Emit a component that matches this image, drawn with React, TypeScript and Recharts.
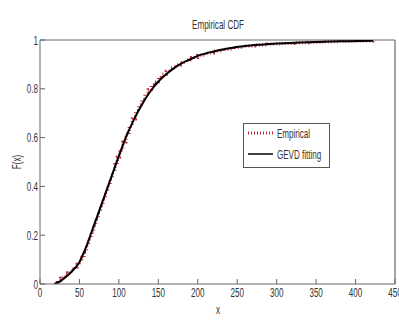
import React from 'react';
import { LineChart, Line, XAxis, YAxis, ReferenceLine } from 'recharts';

const fitX = [18, 22, 26, 30, 35, 40, 45, 50, 55, 60, 65, 70, 75, 80, 85, 90, 95, 100, 110, 120, 130, 140, 150, 160, 170, 180, 190, 200, 220, 240, 260, 280, 300, 330, 360, 390, 422];
const fitY = [0, 0.005, 0.012, 0.022, 0.035, 0.05, 0.068, 0.09, 0.125, 0.165, 0.21, 0.255, 0.3, 0.345, 0.39, 0.435, 0.48, 0.525, 0.61, 0.68, 0.74, 0.79, 0.83, 0.86, 0.885, 0.905, 0.92, 0.935, 0.953, 0.966, 0.975, 0.981, 0.986, 0.99, 0.993, 0.995, 0.997];

const empX = [20, 23, 26, 29, 32, 35, 38, 41, 44, 47, 50, 53, 56, 59, 62, 65, 68, 71, 74, 77, 80, 83, 86, 89, 92, 95, 98, 101, 105, 109, 113, 117, 121, 125, 129, 133, 137, 141, 145, 150, 155, 160, 166, 172, 178, 185, 192, 200, 210, 220, 232, 245, 258, 272, 288, 305, 322, 340, 360, 380, 400, 422];
const empY = [0.006, 0.015, 0.024, 0.031, 0.038, 0.046, 0.053, 0.061, 0.07, 0.081, 0.093, 0.11, 0.132, 0.16, 0.187, 0.212, 0.24, 0.268, 0.296, 0.322, 0.35, 0.378, 0.405, 0.432, 0.46, 0.49, 0.52, 0.548, 0.582, 0.615, 0.646, 0.676, 0.706, 0.73, 0.754, 0.776, 0.796, 0.813, 0.829, 0.846, 0.86, 0.872, 0.886, 0.898, 0.908, 0.918, 0.928, 0.938, 0.947, 0.955, 0.962, 0.969, 0.975, 0.98, 0.984, 0.986, 0.989, 0.991, 0.993, 0.995, 0.996, 0.998];

const xTicks = [0, 50, 100, 150, 200, 250, 300, 350, 400, 450];
const yTicks = [0, 0.2, 0.4, 0.6, 0.8, 1];

const fitData = fitX.map((x, i) => ({ x, y: fitY[i] }));
const empData = empX.map((x, i) => ({ x, y: empY[i] }));

const FONT = '"Liberation Sans", Arial, sans-serif';
const AXIS = '#666';
const TXT = '#333';
const RED = '#c0283c';
const SX = 0.62;

const XTick = (p: any) => (
  <g transform={`translate(${p.x},${p.y}) scale(${SX},1)`}>
    <text x={0} y={0} dy="0.71em" textAnchor="middle" fill={TXT} fontSize={13} fontFamily={FONT}>{p.payload.value}</text>
  </g>
);

const YTick = (p: any) => (
  <g transform={`translate(${p.x},${p.y}) scale(${SX},1)`}>
    <text x={0} y={0} dy="0.355em" textAnchor="end" fill={TXT} fontSize={13} fontFamily={FONT}>{p.payload.value}</text>
  </g>
);

const SText = ({ x, y, anchor = 'start', children, rotate = 0 }: any) => (
  <g transform={`translate(${x},${y}) rotate(${rotate}) scale(${SX},1)`}>
    <text x={0} y={0} textAnchor={anchor} fill={TXT} fontSize={13} fontFamily={FONT}>{children}</text>
  </g>
);

export default function App() {
  return (
    <div style={{ position: 'fixed', left: 0, top: 0, width: 399, height: 320, overflow: 'hidden', background: '#fff' }}>
      <LineChart width={399} height={320} margin={{ top: 40, right: 4, bottom: 6, left: 0 }}>
        <XAxis xAxisId="b" dataKey="x" type="number" domain={[0, 450]} ticks={xTicks} interval={0}
          tickSize={-5} tickMargin={9} height={30} stroke={AXIS} allowDataOverflow tick={<XTick />} />
        <XAxis xAxisId="t" dataKey="x" type="number" orientation="top" mirror height={0} domain={[0, 450]} ticks={xTicks}
          interval={0} tickSize={5} tick={false} stroke={AXIS} allowDataOverflow />
        <YAxis yAxisId="l" dataKey="y" type="number" domain={[0, 1]} ticks={yTicks} interval={0}
          tickSize={-5} tickMargin={7} width={40} stroke={AXIS} allowDataOverflow tick={<YTick />} />
        <YAxis yAxisId="r" dataKey="y" type="number" orientation="right" mirror width={0} domain={[0, 1]} ticks={yTicks}
          interval={0} tickSize={5} tick={false} stroke={AXIS} allowDataOverflow />
        <ReferenceLine xAxisId="b" yAxisId="l" x={450} stroke={AXIS} strokeWidth={1.2} ifOverflow="visible" />
        <ReferenceLine xAxisId="b" yAxisId="l" y={1} stroke={AXIS} ifOverflow="visible" />
        <Line xAxisId="t" yAxisId="r" data={empData} dataKey="y" name="Empirical" type="stepAfter"
          stroke={RED} strokeWidth={3} strokeDasharray="1 2" dot={false} isAnimationActive={false} />
        <Line xAxisId="b" yAxisId="l" data={fitData} dataKey="y" name="GEVD fitting" type="monotone"
          stroke="#000" strokeWidth={2} dot={false} isAnimationActive={false} />
      </LineChart>
      <svg width={399} height={320} style={{ position: 'absolute', left: 0, top: 0, pointerEvents: 'none' }}>
        <SText x={218} y={29} anchor="middle">Empirical CDF</SText>
        <SText x={218} y={314} anchor="middle">x</SText>
        <SText x={21} y={162} anchor="middle" rotate={-90}>F(x)</SText>
        <rect x={243.5} y={123.5} width={86} height={44} fill="#fff" stroke="#555" strokeWidth={1} />
        <line x1={248} y1={133} x2={273} y2={133} stroke={RED} strokeWidth={3} strokeDasharray="1 2" />
        <SText x={277} y={138}>Empirical</SText>
        <line x1={248} y1={154} x2={273} y2={154} stroke="#000" strokeWidth={1.5} />
        <SText x={277} y={159}>GEVD fitting</SText>
      </svg>
    </div>
  );
}
